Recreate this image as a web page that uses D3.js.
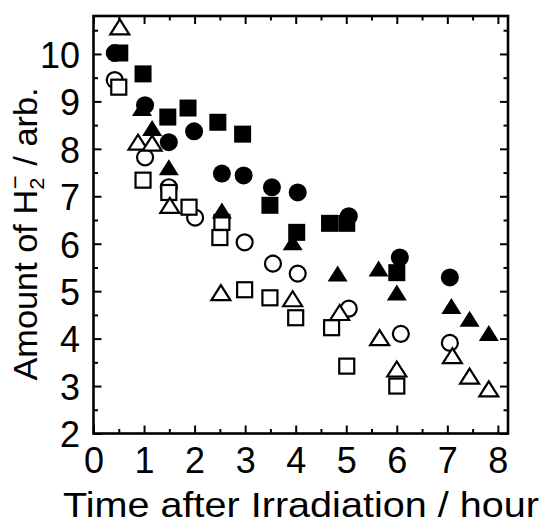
<!DOCTYPE html>
<html>
<head>
<meta charset="utf-8">
<script src="https://cdn.jsdelivr.net/npm/d3@7"></script>
<style>
    body { margin: 0; background: #fff; }
    svg { display: block; }
    text { font-family: "Liberation Sans", Arial, Helvetica, sans-serif; fill: #000; }
</style>
</head>
<body>
<div id="chartdiv"></div>
<script>
// hours after irradiation / amount, one pair of arrays per marker type
var fcX = [0.42, 1.02, 1.49, 1.99, 2.54, 2.97, 3.53, 4.04, 5.05, 6.06, 7.05];
var fcY = [10.02, 8.92, 8.14, 8.37, 7.48, 7.44, 7.19, 7.08, 6.58, 5.71, 5.29];
var fsX = [0.52, 0.98, 1.47, 1.87, 2.46, 2.95, 3.49, 4.02, 4.67, 5.01, 6.0];
var fsY = [10.02, 9.58, 8.67, 8.86, 8.56, 8.31, 6.81, 6.24, 6.43, 6.43, 5.39];
var ftX = [0.96, 1.16, 1.49, 2.54, 3.94, 4.83, 5.64, 6.0, 7.08, 7.44, 7.82];
var ftY = [8.86, 8.44, 7.61, 6.70, 6.03, 5.37, 5.48, 4.97, 4.69, 4.42, 4.12];
var ocX = [0.42, 1.02, 1.49, 2.01, 2.99, 3.55, 4.04, 5.05, 6.08, 7.05];
var ocY = [9.45, 7.82, 7.19, 6.55, 6.03, 5.58, 5.37, 4.63, 4.10, 3.91];
var osX = [0.5, 0.98, 1.49, 1.89, 2.54, 2.50, 2.99, 3.49, 4.0, 4.71, 5.01, 6.0];
var osY = [9.30, 7.34, 7.08, 6.77, 6.45, 6.13, 5.03, 4.86, 4.44, 4.23, 3.42, 3.0];
var otX = [0.52, 0.88, 1.16, 1.51, 2.52, 3.94, 4.87, 5.66, 6.0, 7.1, 7.44, 7.82];
var otY = [10.57, 8.14, 8.12, 6.81, 4.97, 4.84, 4.55, 4.02, 3.36, 3.64, 3.21, 2.94];

var xTicks = [0, 1, 2, 3, 4, 5, 6, 7, 8];
var yTicks = [2, 3, 4, 5, 6, 7, 8, 9, 10];

(function () {
    "use strict";

    var ch = {width: 543, height: 524, left: 93.5, right: 508, top: 16, bottom: 433.5};

    function halves (ticks, lo, hi) {
        var out = [];
        ticks.forEach(function (t) {
            if(t + 0.5 > lo && t + 0.5 < hi) { out.push(t + 0.5); } });
        return out;
    }

    function zip (xs, ys) {
        return xs.map(function (x, i) { return {x: x, y: ys[i]}; });
    }

    //triangle centred on its bounding box rather than its centroid
    function triPath (w, h) {
        return "M0," + (-h / 2) + "L" + (w / 2) + "," + (h / 2) +
            "L" + (-w / 2) + "," + (h / 2) + "Z";
    }

    function drawAxes () {
        var xb = d3.axisBottom(ch.x).tickValues(xTicks).tickSize(-8)
                .tickSizeOuter(0).tickPadding(14),
            xt = d3.axisTop(ch.x).tickValues(xTicks).tickSize(-8)
                .tickSizeOuter(0).tickFormat(""),
            yl = d3.axisLeft(ch.y).tickValues(yTicks).tickSize(-8)
                .tickSizeOuter(0).tickPadding(13.5),
            yr = d3.axisRight(ch.y).tickValues(yTicks).tickSize(-8)
                .tickSizeOuter(0).tickFormat(""),
            xmin = halves(xTicks, 0, 8.2), ymin = halves(yTicks, 2, 10.8);
        function minor (axis) {
            return axis.tickSize(-4.5).tickSizeOuter(0).tickFormat("");
        }
        [[d3.axisBottom(ch.x).tickValues(xmin), "translate(0," + ch.bottom + ")"],
         [d3.axisTop(ch.x).tickValues(xmin), "translate(0," + ch.top + ")"],
         [d3.axisLeft(ch.y).tickValues(ymin), "translate(" + ch.left + ",0)"],
         [d3.axisRight(ch.y).tickValues(ymin), "translate(" + ch.right + ",0)"]]
            .forEach(function (a) {
                ch.svg.append("g").attr("class", "minor")
                    .attr("transform", a[1]).call(minor(a[0])); });
        ch.svg.append("g").attr("transform", "translate(0," + ch.bottom + ")").call(xb);
        ch.svg.append("g").attr("transform", "translate(0," + ch.top + ")").call(xt);
        ch.svg.append("g").attr("class", "yleft")
            .attr("transform", "translate(" + ch.left + ",0)").call(yl);
        ch.svg.append("g").attr("transform", "translate(" + ch.right + ",0)").call(yr);
        ch.svg.selectAll(".domain").remove();
        ch.svg.selectAll(".tick line").attr("stroke", "#000").attr("stroke-width", 2);
        ch.svg.selectAll(".tick text")
            .attr("font-size", 36).attr("fill", "#000")
            .attr("font-family", "Liberation Sans, Arial, sans-serif");
        ch.svg.select(".yleft").selectAll(".tick text").attr("dy", "0.37em");
        ch.svg.append("rect")
            .attr("x", ch.left).attr("y", ch.top)
            .attr("width", ch.right - ch.left).attr("height", ch.bottom - ch.top)
            .attr("fill", "none").attr("stroke", "#000").attr("stroke-width", 2.6);
    }

    function drawLabels () {
        var yl;
        ch.svg.append("text")
            .attr("x", 301).attr("y", 517)
            .attr("text-anchor", "middle").attr("font-size", 35)
            .attr("textLength", 476).attr("lengthAdjust", "spacingAndGlyphs")
            .text("Time after Irradiation / hour");
        yl = ch.svg.append("text")
            .attr("transform", "translate(37,234) rotate(-90) scale(1.04,1)")
            .attr("text-anchor", "middle").attr("font-size", 33);
        yl.append("tspan").text("Amount of H");
        yl.append("tspan").attr("font-size", 21).attr("dy", 7).text("2");
        yl.append("tspan").attr("font-size", 23).attr("dy", -21).attr("dx", -11).text("\u2212");
        yl.append("tspan").attr("dy", 14).text(" / arb.");
    }

    function drawPoints () {
        var g = ch.svg.append("g").attr("class", "points"),
            sets = [
                {pts: zip(ocX, ocY), shape: "circle", fill: false},
                {pts: zip(osX, osY), shape: "square", fill: false},
                {pts: zip(otX, otY), shape: "triangle", fill: false},
                {pts: zip(fcX, fcY), shape: "circle", fill: true},
                {pts: zip(fsX, fsY), shape: "square", fill: true},
                {pts: zip(ftX, ftY), shape: "triangle", fill: true}];
        sets.forEach(function (s) {
            var sel = g.selectAll(null).data(s.pts).enter();
            if(s.shape === "circle") {
                sel = sel.append("circle").attr("r", s.fill ? 9 : 8)
                    .attr("cx", function (d) { return ch.x(d.x); })
                    .attr("cy", function (d) { return ch.y(d.y); }); }
            else if(s.shape === "square") {
                sel = sel.append("rect")
                    .attr("width", s.fill ? 17 : 15).attr("height", s.fill ? 17 : 15)
                    .attr("x", function (d) { return ch.x(d.x) - (s.fill ? 8.5 : 7.5); })
                    .attr("y", function (d) { return ch.y(d.y) - (s.fill ? 8.5 : 7.5); }); }
            else {
                sel = sel.append("path")
                    .attr("d", s.fill ? triPath(20, 16) : triPath(19, 15))
                    .attr("transform", function (d) {
                        return "translate(" + ch.x(d.x) + "," + ch.y(d.y) + ")"; })
                    .attr("stroke-linejoin", "miter"); }
            sel.attr("fill", s.fill ? "#000" : "#fff")
                .attr("stroke", "#000")
                .attr("stroke-width", s.fill ? 0 : 2.2);
        });
    }

    function display () {
        ch.svg = d3.select("#chartdiv").append("svg")
            .attr("width", ch.width).attr("height", ch.height);
        ch.x = d3.scaleLinear().domain([0, 8.2]).range([ch.left, ch.right]);
        ch.y = d3.scaleLinear().domain([2, 10.8]).range([ch.bottom, ch.top]);
        drawAxes();
        drawPoints();
        drawLabels();
    }

    display();
}());
</script>
</body>
</html>
